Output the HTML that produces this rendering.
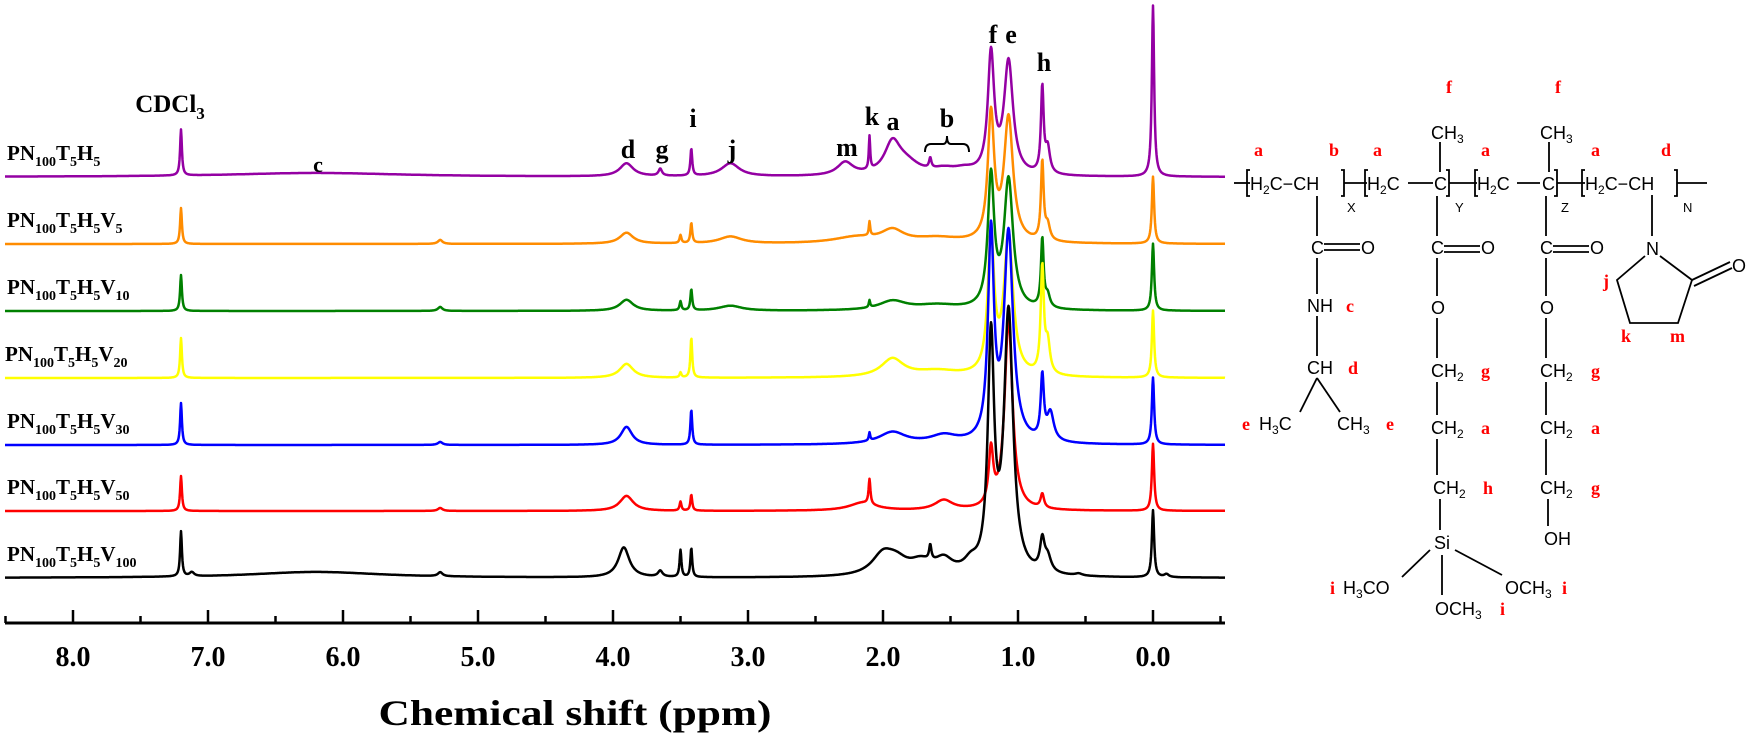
<!DOCTYPE html>
<html><head><meta charset="utf-8"><style>
body{margin:0;background:#fff;}
svg{display:block;}
.lab{font-family:"Liberation Serif",serif;font-weight:bold;}
.chem{font-family:"Liberation Sans",sans-serif;font-size:18px;fill:#000;}
.red{font-family:"Liberation Serif",serif;font-weight:bold;font-size:18px;fill:#f00;}
</style></head><body>
<svg id="s" width="1750" height="734" viewBox="0 0 1750 734" xmlns="http://www.w3.org/2000/svg">
<g id="traces" fill="none" stroke-width="2.5" stroke-linejoin="round"></g>
<g stroke="#000" stroke-width="3" fill="none">
<line x1="5" y1="623" x2="1225" y2="623"/>
</g>
<g id="ticks" stroke="#000" stroke-width="2.5"></g>
<g class="lab" font-size="28" text-anchor="middle" fill="#000">
<text x="73" y="666">8.0</text><text x="208" y="666">7.0</text><text x="343" y="666">6.0</text>
<text x="478" y="666">5.0</text><text x="613" y="666">4.0</text><text x="748" y="666">3.0</text>
<text x="883" y="666">2.0</text><text x="1018" y="666">1.0</text><text x="1153" y="666">0.0</text>
<text x="575" y="725" font-size="36" textLength="393" lengthAdjust="spacingAndGlyphs">Chemical shift (ppm)</text>
</g>
<g class="lab" font-size="21" fill="#000">
<text x="7" y="160">PN<tspan font-size="14" dy="6">100</tspan><tspan dy="-6">T</tspan><tspan font-size="14" dy="6">5</tspan><tspan dy="-6">H</tspan><tspan font-size="14" dy="6">5</tspan></text>
<text x="7" y="227">PN<tspan font-size="14" dy="6">100</tspan><tspan dy="-6">T</tspan><tspan font-size="14" dy="6">5</tspan><tspan dy="-6">H</tspan><tspan font-size="14" dy="6">5</tspan><tspan dy="-6">V</tspan><tspan font-size="14" dy="6">5</tspan></text>
<text x="7" y="294">PN<tspan font-size="14" dy="6">100</tspan><tspan dy="-6">T</tspan><tspan font-size="14" dy="6">5</tspan><tspan dy="-6">H</tspan><tspan font-size="14" dy="6">5</tspan><tspan dy="-6">V</tspan><tspan font-size="14" dy="6">10</tspan></text>
<text x="5" y="361">PN<tspan font-size="14" dy="6">100</tspan><tspan dy="-6">T</tspan><tspan font-size="14" dy="6">5</tspan><tspan dy="-6">H</tspan><tspan font-size="14" dy="6">5</tspan><tspan dy="-6">V</tspan><tspan font-size="14" dy="6">20</tspan></text>
<text x="7" y="428">PN<tspan font-size="14" dy="6">100</tspan><tspan dy="-6">T</tspan><tspan font-size="14" dy="6">5</tspan><tspan dy="-6">H</tspan><tspan font-size="14" dy="6">5</tspan><tspan dy="-6">V</tspan><tspan font-size="14" dy="6">30</tspan></text>
<text x="7" y="494">PN<tspan font-size="14" dy="6">100</tspan><tspan dy="-6">T</tspan><tspan font-size="14" dy="6">5</tspan><tspan dy="-6">H</tspan><tspan font-size="14" dy="6">5</tspan><tspan dy="-6">V</tspan><tspan font-size="14" dy="6">50</tspan></text>
<text x="7" y="561">PN<tspan font-size="14" dy="6">100</tspan><tspan dy="-6">T</tspan><tspan font-size="14" dy="6">5</tspan><tspan dy="-6">H</tspan><tspan font-size="14" dy="6">5</tspan><tspan dy="-6">V</tspan><tspan font-size="14" dy="6">100</tspan></text>
</g>
<g class="lab" font-size="26" fill="#000" text-anchor="middle">
<text x="170" y="112" font-size="25">CDCl<tspan font-size="17" dy="7">3</tspan></text>
<text x="318" y="172" font-size="22">c</text>
<text x="628" y="158">d</text>
<text x="662" y="158">g</text>
<text x="693" y="127">i</text>
<text x="732" y="158">j</text>
<text x="847" y="156">m</text>
<text x="872" y="125">k</text>
<text x="893" y="130">a</text>
<text x="947" y="127">b</text>
<text x="993" y="43">f</text>
<text x="1011" y="43">e</text>
<text x="1044" y="71">h</text>
</g>
<path d="M925,152 q0,-8 6,-8 h12 q4,0 4,-8 q0,8 4,8 h12 q6,0 6,8" fill="none" stroke="#000" stroke-width="2"/>
<g stroke="#000" stroke-width="1.8" fill="none">
<line x1="1234" y1="183" x2="1250" y2="183"/>
<path d="M1250,170 h-3 v26 h3"/>
<path d="M1341,170 h3 v26 h-3"/>
<line x1="1344" y1="183" x2="1367" y2="183"/>
<path d="M1368,170 h-3 v26 h3"/>
<line x1="1408" y1="183" x2="1433" y2="183"/>
<path d="M1446,170 h3 v26 h-3"/>
<line x1="1449" y1="183" x2="1477" y2="183"/>
<path d="M1478,170 h-3 v26 h3"/>
<line x1="1517" y1="183" x2="1540" y2="183"/>
<path d="M1554,170 h3 v26 h-3"/>
<line x1="1557" y1="183" x2="1585" y2="183"/>
<path d="M1585,170 h-3 v26 h3"/>
<path d="M1674,170 h3 v26 h-3"/>
<line x1="1677" y1="183" x2="1707" y2="183"/>
<line x1="1317" y1="196" x2="1317" y2="236"/>
<line x1="1317" y1="258" x2="1317" y2="294"/>
<line x1="1317" y1="316" x2="1317" y2="356"/>
<line x1="1324" y1="244" x2="1360" y2="244"/><line x1="1324" y1="250" x2="1360" y2="250"/>
<line x1="1317" y1="378" x2="1300" y2="412"/><line x1="1317" y1="378" x2="1340" y2="412"/>
<line x1="1440" y1="142" x2="1440" y2="172"/>
<line x1="1437" y1="196" x2="1437" y2="236"/>
<line x1="1437" y1="258" x2="1437" y2="296"/>
<line x1="1437" y1="318" x2="1437" y2="358"/>
<line x1="1437" y1="382" x2="1437" y2="415"/>
<line x1="1437" y1="439" x2="1437" y2="475"/>
<line x1="1440" y1="499" x2="1440" y2="530"/>
<line x1="1444" y1="246" x2="1480" y2="246"/><line x1="1444" y1="252" x2="1480" y2="252"/>
<line x1="1430" y1="550" x2="1402" y2="577"/>
<line x1="1442" y1="555" x2="1442" y2="595"/>
<line x1="1455" y1="550" x2="1502" y2="575"/>
<line x1="1549" y1="142" x2="1549" y2="172"/>
<line x1="1546" y1="196" x2="1546" y2="236"/>
<line x1="1546" y1="258" x2="1546" y2="296"/>
<line x1="1546" y1="318" x2="1546" y2="358"/>
<line x1="1546" y1="382" x2="1546" y2="415"/>
<line x1="1546" y1="439" x2="1546" y2="475"/>
<line x1="1548" y1="499" x2="1548" y2="526"/>
<line x1="1553" y1="246" x2="1589" y2="246"/><line x1="1553" y1="252" x2="1589" y2="252"/>
<line x1="1652" y1="195" x2="1652" y2="236"/>
<path d="M1645,256 L1617,280 L1630,323 L1678,323 L1692,280 L1660,256"/>
<line x1="1692" y1="280" x2="1730" y2="262"/><line x1="1694" y1="286" x2="1732" y2="268"/>
</g>
<g class="chem">
<text x="1250" y="190">H<tspan font-size="12" dy="4">2</tspan><tspan dy="-4">C−CH</tspan></text>
<text x="1347" y="212" font-size="13">X</text>
<text x="1367" y="190">H<tspan font-size="12" dy="4">2</tspan><tspan dy="-4">C</tspan></text>
<text x="1434" y="190">C</text>
<text x="1455" y="212" font-size="13">Y</text>
<text x="1477" y="190">H<tspan font-size="12" dy="4">2</tspan><tspan dy="-4">C</tspan></text>
<text x="1542" y="190">C</text>
<text x="1561" y="212" font-size="13">Z</text>
<text x="1585" y="190">H<tspan font-size="12" dy="4">2</tspan><tspan dy="-4">C−CH</tspan></text>
<text x="1683" y="212" font-size="13">N</text>
<text x="1431" y="139">CH<tspan font-size="12" dy="4">3</tspan></text>
<text x="1540" y="139">CH<tspan font-size="12" dy="4">3</tspan></text>
<text x="1311" y="254">C</text><text x="1361" y="254">O</text>
<text x="1307" y="312">NH</text>
<text x="1307" y="374">CH</text>
<text x="1259" y="430">H<tspan font-size="12" dy="4">3</tspan><tspan dy="-4">C</tspan></text>
<text x="1337" y="430">CH<tspan font-size="12" dy="4">3</tspan></text>
<text x="1431" y="254">C</text><text x="1481" y="254">O</text>
<text x="1431" y="314">O</text>
<text x="1431" y="377">CH<tspan font-size="12" dy="4">2</tspan></text>
<text x="1431" y="434">CH<tspan font-size="12" dy="4">2</tspan></text>
<text x="1433" y="494">CH<tspan font-size="12" dy="4">2</tspan></text>
<text x="1434" y="549">Si</text>
<text x="1343" y="594">H<tspan font-size="12" dy="4">3</tspan><tspan dy="-4">CO</tspan></text>
<text x="1435" y="615">OCH<tspan font-size="12" dy="4">3</tspan></text>
<text x="1505" y="594">OCH<tspan font-size="12" dy="4">3</tspan></text>
<text x="1540" y="254">C</text><text x="1590" y="254">O</text>
<text x="1540" y="314">O</text>
<text x="1540" y="377">CH<tspan font-size="12" dy="4">2</tspan></text>
<text x="1540" y="434">CH<tspan font-size="12" dy="4">2</tspan></text>
<text x="1540" y="494">CH<tspan font-size="12" dy="4">2</tspan></text>
<text x="1544" y="545">OH</text>
<text x="1646" y="255">N</text>
<text x="1732" y="272">O</text>
</g>
<g class="red">
<text x="1254" y="156">a</text><text x="1329" y="156">b</text><text x="1373" y="156">a</text>
<text x="1481" y="156">a</text><text x="1591" y="156">a</text><text x="1661" y="156">d</text>
<text x="1446" y="93">f</text><text x="1555" y="93">f</text>
<text x="1346" y="312">c</text><text x="1348" y="374">d</text>
<text x="1242" y="430">e</text><text x="1386" y="430">e</text>
<text x="1481" y="377">g</text><text x="1481" y="434">a</text><text x="1483" y="494">h</text>
<text x="1591" y="377">g</text><text x="1591" y="434">a</text><text x="1591" y="494">g</text>
<text x="1330" y="594">i</text><text x="1500" y="615">i</text><text x="1562" y="594">i</text>
<text x="1603" y="287">j</text><text x="1621" y="342">k</text><text x="1670" y="342">m</text>
</g>
</svg>
<script>
(function(){
var NS="http://www.w3.org/2000/svg";
function X(p){return 1153-135*p;}
var tk=document.getElementById('ticks');
for(var p=8.5;p>=-0.5;p-=0.5){var x=X(p);var l=document.createElementNS(NS,'line');
var maj=Math.abs(p-Math.round(p))<0.01;
l.setAttribute('x1',x);l.setAttribute('x2',x);l.setAttribute('y1',623);l.setAttribute('y2',maj?610:616);tk.appendChild(l);}
var T=[
["#9400a3",177,[[0,171,.01],[7.2,46,.008],[6.2,4,.8],[3.9,13,.06],[3.65,7,.015],[3.42,27,.008],[3.13,13,.08],[2.28,13,.07],[2.1,33,.006],[1.93,30,.07],[1.83,12,.12],[1.65,10,.01],[1.55,5,.1],[1.4,5,.1],[1.2,118,.028],[1.07,112,.04],[0.82,85,.012],[0.78,25,.02]]],
["#ff8c00",244,[[0,67,.01],[7.2,36,.008],[5.28,4,.02],[3.9,11,.06],[3.5,8,.008],[3.42,20,.008],[3.13,7,.1],[2.2,6,.2],[2.1,14,.006],[1.93,12,.1],[1.6,5,.2],[1.2,125,.028],[1.07,123,.04],[0.82,78,.012],[0.78,15,.02]]],
["#008000",311,[[0,67,.01],[7.2,36,.008],[5.28,4,.02],[3.9,11,.06],[3.5,9,.008],[3.42,21,.008],[3.13,5,.1],[2.1,7,.006],[1.93,9,.12],[1.6,5,.2],[1.2,130,.028],[1.07,128,.04],[0.82,68,.012],[0.78,12,.02]]],
["#ffff00",378,[[0,67,.01],[7.2,40,.008],[3.9,14,.06],[3.5,5,.008],[3.42,40,.008],[1.93,18,.1],[1.6,6,.2],[1.2,137,.028],[1.07,140,.04],[0.82,105,.014],[0.78,30,.02]]],
["#0000ff",445,[[0,67,.01],[7.2,42,.008],[5.28,3,.02],[3.9,18,.05],[3.42,35,.008],[2.1,8,.006],[1.93,12,.12],[1.55,8,.12],[1.2,205,.026],[1.07,208,.04],[0.82,62,.014],[0.76,28,.03]]],
["#ff0000",511,[[0,67,.01],[7.2,35,.008],[5.28,3,.02],[3.9,15,.06],[3.5,9,.008],[3.42,16,.008],[2.1,25,.008],[2.15,8,.12],[1.55,10,.08],[1.2,55,.02],[1.07,190,.035],[0.82,14,.015]]],
["#000000",578,[[0,67,.01],[7.2,45,.008],[7.12,4,.02],[6.2,6,.6],[5.28,4,.02],[3.92,30,.05],[3.65,6,.02],[3.5,27,.008],[3.42,29,.008],[2.0,20,.1],[1.9,12,.1],[1.72,12,.1],[1.65,15,.01],[1.55,14,.08],[1.35,10,.06],[1.2,230,.028],[1.07,260,.04],[0.82,30,.02],[0.78,15,.03],[0.55,2,.03],[-0.1,3,.02]]]
];
var g=document.getElementById('traces');
T.forEach(function(t){
 var d="";var pk=t[2];
 for(var x=5;x<=1225;x+=0.5){var p=(1153-x)/135;var y=0;
  for(var i=0;i<pk.length;i++){var u=(p-pk[i][0])/pk[i][2];y+=pk[i][1]/(1+u*u);}
  d+=(x==5?"M":"L")+x+","+(t[1]-y).toFixed(1);}
 var e=document.createElementNS(NS,'path');e.setAttribute('d',d);e.setAttribute('stroke',t[0]);g.appendChild(e);
});
})();
</script>
</body></html>
